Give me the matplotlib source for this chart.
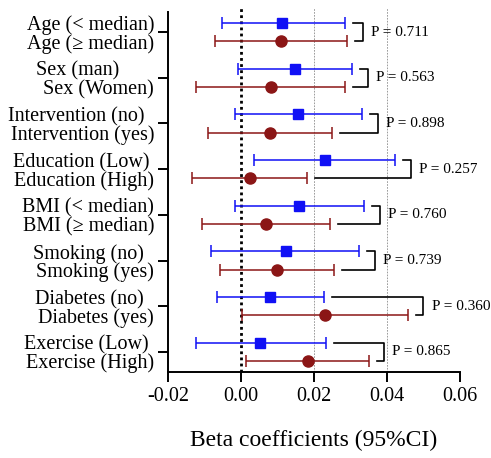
import matplotlib

matplotlib.use("Agg")
import matplotlib.pyplot as plt

plt.rcParams["font.family"] = ["Liberation Serif", "DejaVu Serif"]

# subgroup pairs, top to bottom
upper_labels = ["Age (< median)", "Sex (man)", "Intervention (no)", "Education (Low)",
                "BMI (< median)", "Smoking (no)", "Diabetes (no)", "Exercise (Low)"]
lower_labels = ["Age (\u2265 median)", "Sex (Women)", "Intervention (yes)", "Education (High)",
                "BMI (\u2265 median)", "Smoking (yes)", "Diabetes (yes)", "Exercise (High)"]

blue_beta = [0.0114, 0.0148, 0.0158, 0.0230, 0.0160, 0.0125, 0.0081, 0.0053]
blue_lo = [-0.0053, -0.0009, -0.0016, 0.0036, -0.0016, -0.0081, -0.0065, -0.0124]
blue_hi = [0.0285, 0.0306, 0.0333, 0.0423, 0.0338, 0.0324, 0.0229, 0.0234]

red_beta = [0.0111, 0.0082, 0.0081, 0.0025, 0.0069, 0.0099, 0.0232, 0.0183]
red_lo = [-0.0071, -0.0124, -0.0091, -0.0135, -0.0107, -0.0058, 0.0004, 0.0014]
red_hi = [0.0292, 0.0286, 0.0251, 0.0182, 0.0244, 0.0255, 0.0458, 0.0351]

p_values = ["0.711", "0.563", "0.898", "0.257", "0.760", "0.739", "0.360", "0.865"]

# trailing pad used in the original labels
upper_pad = ["", "       ", "  ", " ", "", "  ", "  ", " "]

BLUE = "#1010f5"
RED = "#8b1616"
OFF = 0.2

fig = plt.figure(figsize=(4.91, 4.58), dpi=100)
ax = fig.add_axes([0.342, 0.1884, 0.594, 0.794])

centers = list(range(len(upper_labels)))
y_up = [c - OFF for c in centers]
y_dn = [c + OFF for c in centers]

for x in (0.02, 0.04, 0.06):
    ax.axvline(x, color="#8c8c8c", linestyle=(0, (2, 1.5)), linewidth=0.6, zorder=0)
ax.axvline(0, color="black", linestyle=(0, (1, 1.2)), linewidth=2.0, zorder=1)

err_b = [[b - l for b, l in zip(blue_beta, blue_lo)], [h - b for b, h in zip(blue_beta, blue_hi)]]
err_r = [[b - l for b, l in zip(red_beta, red_lo)], [h - b for b, h in zip(red_beta, red_hi)]]
ax.errorbar(blue_beta, y_up, xerr=err_b, fmt="s", color=BLUE, ms=7.5, elinewidth=1.1,
            capsize=4, capthick=1.1, zorder=3)
ax.errorbar(red_beta, y_dn, xerr=err_r, fmt="o", color=RED, ms=8, elinewidth=1.1,
            capsize=4, capthick=1.1, zorder=3)

# brackets with p-values
gap = 0.0022
for c, bh, rh, p in zip(centers, blue_hi, red_hi, p_values):
    xv = max(bh, rh) + 0.0043
    ax.plot([bh + gap, xv, xv, rh + gap], [c - OFF, c - OFF, c + OFF, c + OFF],
            color="black", linewidth=1.2, zorder=2)
    ax.text(xv + 0.0022, c, f"P = {p}", fontsize=11, va="center", ha="left")

ax.set_xlim(-0.02, 0.06)
ax.set_ylim(7.433, -0.525)
ax.set_xticks([-0.02, 0.0, 0.02, 0.04, 0.06])
ax.set_xticklabels(["-0.02", "0.00", "0.02", "0.04", "0.06"], fontsize=14.5)
ax.set_yticks(centers)
ax.set_yticklabels([])
ax.set_yticks(y_up + y_dn, minor=True)
ax.set_yticklabels([l + p for l, p in zip(upper_labels, upper_pad)] + lower_labels,
                   minor=True, fontsize=14.5)
ax.tick_params(axis="y", which="minor", length=0, pad=10)
ax.tick_params(axis="both", which="major", length=7, width=1.4, direction="out")
ax.tick_params(axis="x", pad=4)

ax.spines["top"].set_visible(False)
ax.spines["right"].set_visible(False)
ax.spines["left"].set_linewidth(1.4)
ax.spines["bottom"].set_linewidth(1.4)
ax.spines["left"].set_bounds(7.433, -0.44)

ax.set_xlabel("Beta coefficients (95%CI)", fontsize=17, labelpad=17)

fig.savefig("out.png", dpi=100)
